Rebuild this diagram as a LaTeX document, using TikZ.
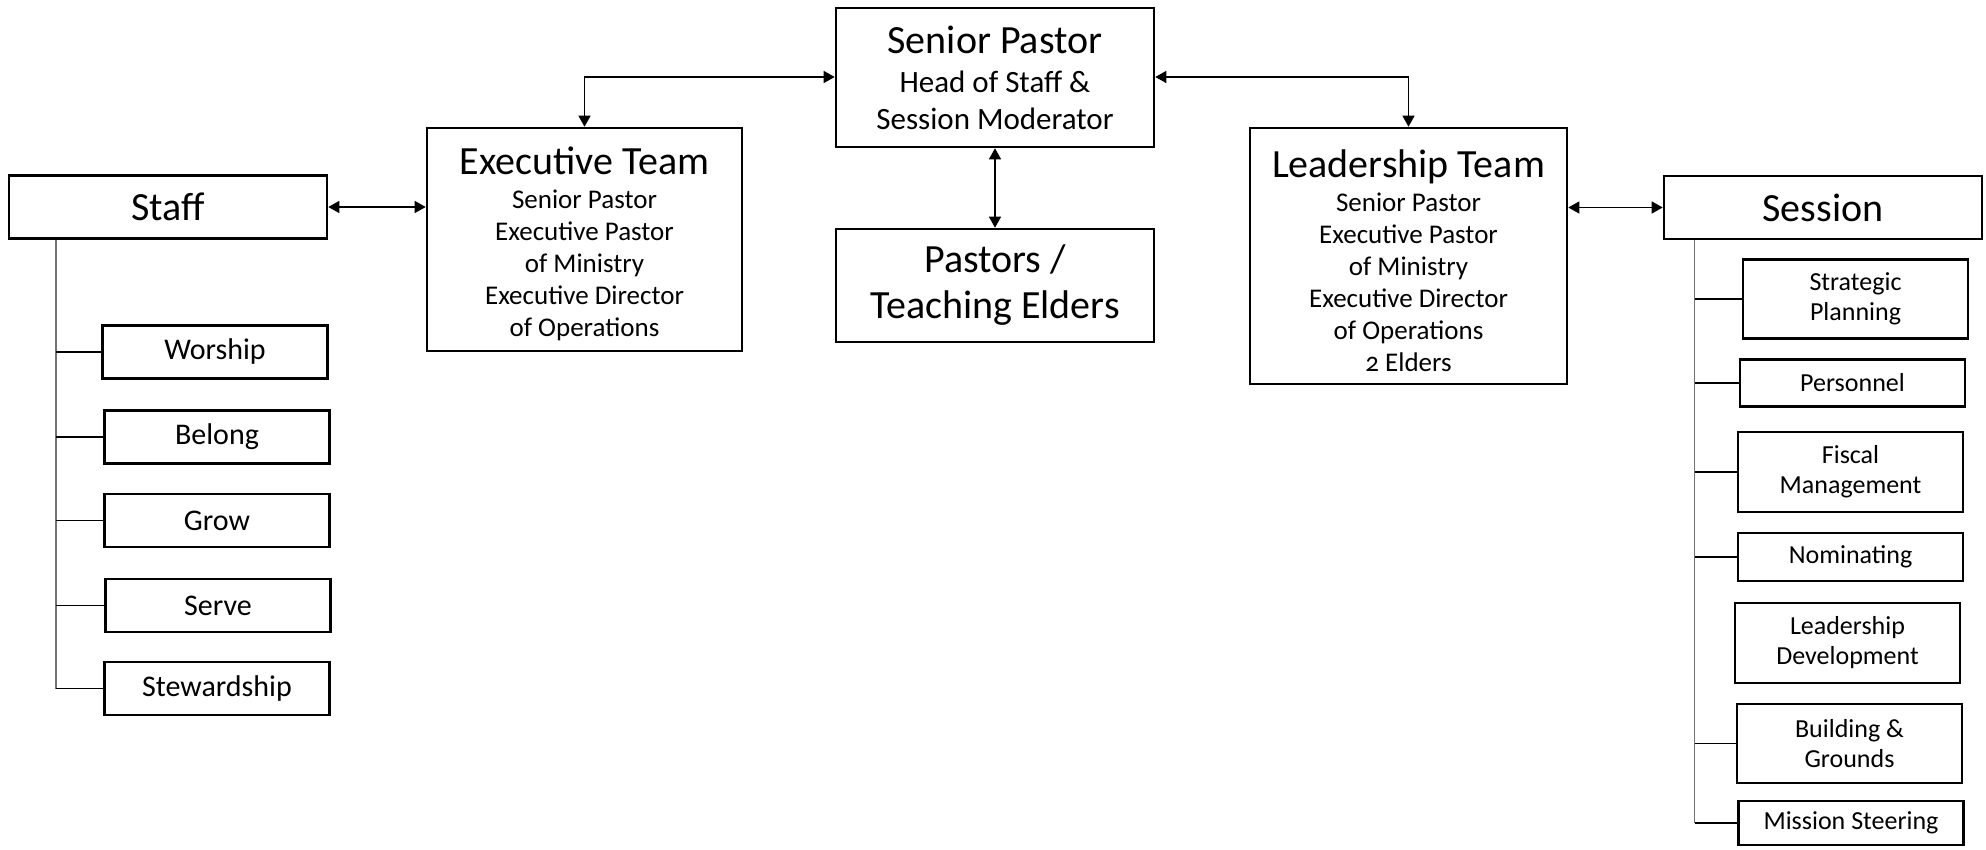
\documentclass[tikz,border=0pt]{standalone}
\usepackage{fontspec}
\setmainfont{Carlito}[Numbers=OldStyle]
\usetikzlibrary{arrows.meta}
\newcommand{\ftitle}{\fontsize{40}{46}\selectfont}
\newcommand{\fsp}{\fontsize{31}{37}\selectfont}
\newcommand{\fteam}{\fontsize{27}{32}\selectfont}
\newcommand{\fleafL}{\fontsize{30}{36}\selectfont}
\newcommand{\fleafR}{\fontsize{26}{30}\selectfont}
\tikzset{
  box/.style={draw=black, line width=2.6pt, fill=white, rectangle, align=center, inner sep=0pt, text=black},
  bigbox/.style={box, minimum width=318pt},
  leafL/.style={box, minimum width=225pt, minimum height=53pt, font=\fleafL},
  leafR/.style={box, minimum width=225pt, font=\fleafR},
  link/.style={line width=1.3pt, draw=black, {Triangle[length=11pt,width=12pt]}-{Triangle[length=11pt,width=12pt]}},
  trunk/.style={line width=1.4pt, draw=black!55},
  branch/.style={line width=1.2pt, draw=black}
}
\begin{document}
\begin{tikzpicture}[x=1pt,y=-1pt]
\useasboundingbox (0,0) rectangle (1986,850);
% top row
\node[bigbox, minimum height=139pt, font=\fsp] (sp) at (995,77.5) {{\ftitle Senior Pastor}\\[2pt]Head of Staff \&\\Session Moderator};
\node[bigbox, minimum height=113pt, font=\ftitle] (pte) at (995,285.5) {Pastors /\\Teaching Elders};
\node[box, minimum width=315pt, minimum height=223pt, font=\fteam] (et) at (584.5,239.5) {{\ftitle\rule{0pt}{37pt}Executive Team}\\[2pt]Senior Pastor\\Executive Pastor\\of Ministry\\Executive Director\\of Operations};
\node[box, minimum width=317pt, minimum height=256pt, font=\fteam] (lt) at (1408.5,256) {{\ftitle\rule{0pt}{37pt}Leadership Team}\\[2pt]Senior Pastor\\Executive Pastor\\of Ministry\\Executive Director\\of Operations\\2 Elders};
\node[bigbox, minimum height=63pt, font=\ftitle] (staff) at (168,207) {Staff};
\node[bigbox, minimum height=63pt, font=\ftitle] (session) at (1823,207.5) {Session};
% staff leaves
\node[leafL] (worship) at (215,352) {Worship};
\node[leafL] (belong) at (217,437) {Belong};
\node[leafL] (grow) at (217,520.5) {Grow};
\node[leafL] (serve) at (218,605.5) {Serve};
\node[leafL] (stew) at (217,688.5) {Stewardship};
% session leaves
\node[leafR, minimum height=79pt] (strat) at (1855.5,299) {Strategic\\Planning};
\node[leafR, minimum height=47pt] (pers) at (1852.5,383) {Personnel};
\node[leafR, minimum height=80pt] (fisc) at (1850.5,472) {Fiscal\\Management};
\node[leafR, minimum height=48pt] (nom) at (1850.5,557) {Nominating};
\node[leafR, minimum height=80pt] (ldev) at (1847.5,643) {Leadership\\Development};
\node[leafR, minimum height=79pt] (bg) at (1849.5,743.5) {Building \&\\Grounds};
\node[leafR, minimum height=44pt] (miss) at (1851,823) {Mission Steering};
% connectors
\coordinate (lk) at (584.5,77);
\coordinate (rk) at (1408.5,77);
\draw[link] (et.north) -- (lk) -- (sp.west |- lk);
\draw[link] (lt.north) -- (rk) -- (sp.east |- rk);
\draw[link] (sp.south) -- (pte.north);
\draw[link] (staff.east |- 0,207) -- (et.west |- 0,207);
\draw[link] (lt.east |- 0,207.5) -- (session.west |- 0,207.5);
% staff tree
\coordinate (tl) at (56,0);
\draw[trunk] (staff.south -| tl) -- (stew.west -| tl);
\foreach \n in {worship,belong,grow,serve,stew} \draw[branch] (\n.west -| tl) -- (\n.west);
% session tree
\coordinate (tr) at (1694.5,0);
\draw[trunk] (session.south -| tr) -- (miss.west -| tr);
\foreach \n in {strat,pers,fisc,nom,bg,miss} \draw[branch] (\n.west -| tr) -- (\n.west);
\end{tikzpicture}
\end{document}
